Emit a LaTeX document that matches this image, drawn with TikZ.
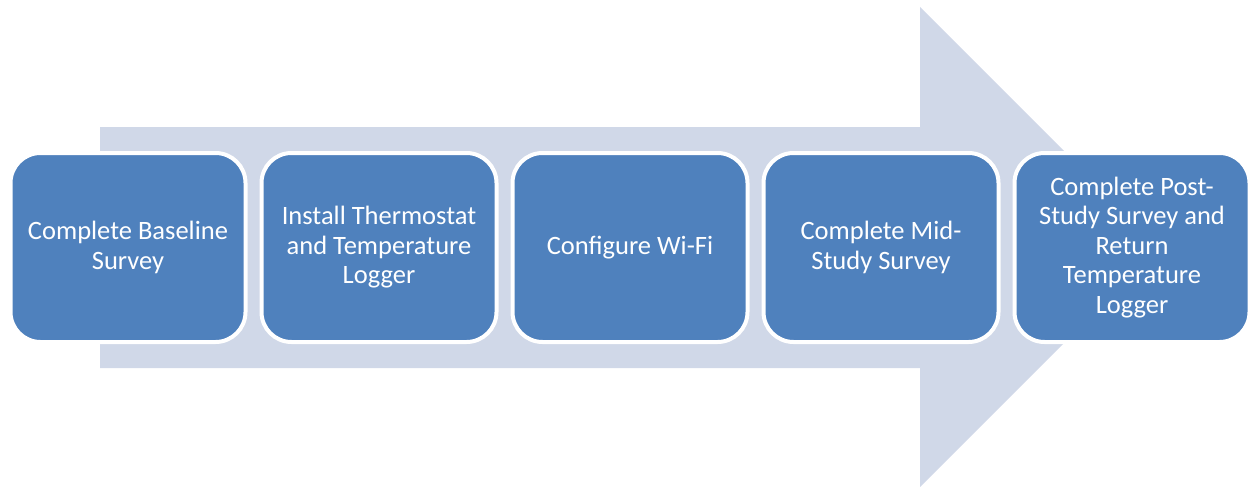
\documentclass[tikz,border=0pt]{standalone}
\usepackage{fontspec}
\setmainfont{Carlito}
\definecolor{stepblue}{HTML}{4F81BD}
\definecolor{arrowgrey}{HTML}{D0D8E8}
\begin{document}
\begin{tikzpicture}[x=1pt,y=-1pt,
	stepbox/.style={rectangle,rounded corners=30pt,fill=stepblue,draw=white,line width=4pt,
		minimum width=235pt,minimum height=189pt,text=white,align=center,
		font=\fontsize{26.5}{29.5}\selectfont}]
	\useasboundingbox (0,0) rectangle (1248,487);
	\fill[arrowgrey] (100,127) -- (920,127) -- (920,7) -- (1160,247) -- (920,487) -- (920,368) -- (100,368) -- cycle;
	\node (baseline) at (128,247.5) [stepbox] {Complete Baseline\\Survey};
	\node (install) at (379,247.5) [stepbox] {Install Thermostat\\and Temperature\\Logger};
	\node (wifi) at (630,247.5) [stepbox] {Configure Wi-Fi};
	\node (midstudy) at (881,247.5) [stepbox] {Complete Mid-\\Study Survey};
	\node (poststudy) at (1132,247.5) [stepbox] {Complete Post-\\Study Survey and\\Return\\Temperature\\Logger};
\end{tikzpicture}
\end{document}
